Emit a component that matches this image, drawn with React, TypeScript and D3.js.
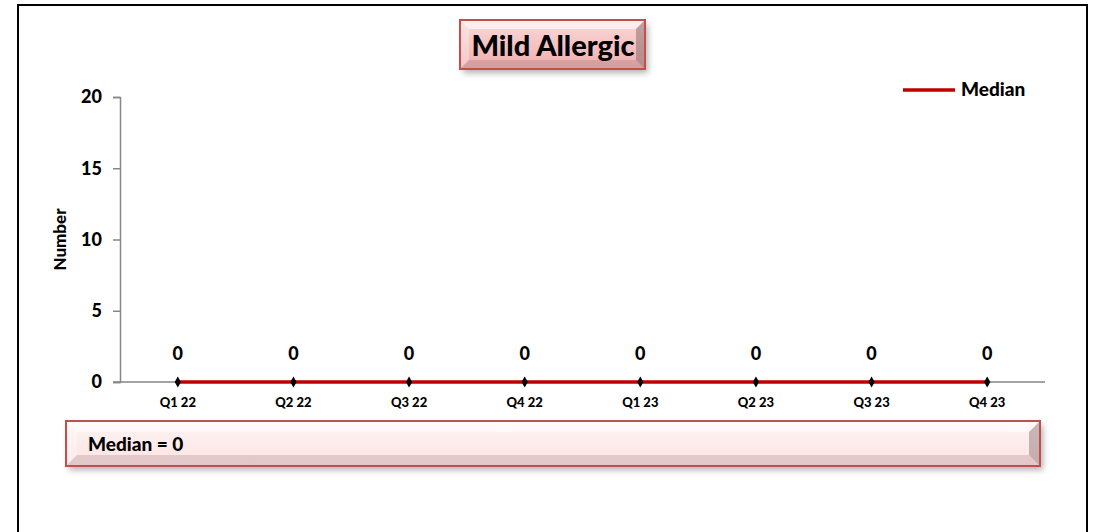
import { useEffect, useRef } from 'react';
import * as d3 from 'd3';

const categories = ['Q1 22', 'Q2 22', 'Q3 22', 'Q4 22', 'Q1 23', 'Q2 23', 'Q3 23', 'Q4 23'];
const medianValues = [0, 0, 0, 0, 0, 0, 0, 0];
const yTicks = [0, 5, 10, 15, 20];
const chartTitle = 'Mild Allergic';
const medianText = 'Median = 0';

const W = 1097;
const H = 532;
const FONT = 'Lato, Carlito, Calibri, "Open Sans", sans-serif';
const RED = '#C00000';

function bevelBox(
  g: d3.Selection<SVGGElement, unknown, null, undefined>,
  x: number, y: number, w: number, h: number,
  fillId: string, bevel: number, shadowId: string, shade: number
) {
  g.append('rect')
    .attr('x', x).attr('y', y).attr('width', w).attr('height', h)
    .attr('fill', '#fff').attr('filter', `url(#${shadowId})`);
  g.append('rect')
    .attr('x', x).attr('y', y).attr('width', w).attr('height', h)
    .attr('fill', `url(#${fillId})`);
  // top highlight
  g.append('path')
    .attr('d', `M${x},${y}L${x + w},${y}L${x + w - bevel},${y + bevel}L${x + bevel},${y + bevel}Z`)
    .attr('fill', '#fff').attr('opacity', 0.6);
  // left highlight
  g.append('path')
    .attr('d', `M${x},${y}L${x + bevel},${y + bevel}L${x + bevel},${y + h - bevel}L${x},${y + h}Z`)
    .attr('fill', '#fff').attr('opacity', 0.3);
  // right shade
  g.append('path')
    .attr('d', `M${x + w},${y}L${x + w},${y + h}L${x + w - bevel},${y + h - bevel}L${x + w - bevel},${y + bevel}Z`)
    .attr('fill', '#7a5a5a').attr('opacity', shade);
  // bottom shade
  g.append('path')
    .attr('d', `M${x},${y + h}L${x + w},${y + h}L${x + w - bevel},${y + h - bevel}L${x + bevel},${y + h - bevel}Z`)
    .attr('fill', '#8a6a6a').attr('opacity', shade * 0.55);
  g.append('rect')
    .attr('x', x).attr('y', y).attr('width', w).attr('height', h)
    .attr('fill', 'none').attr('stroke', '#C0504D').attr('stroke-width', 2);
}

export default function App() {
  const svgRef = useRef<SVGSVGElement>(null);

  useEffect(() => {
    if (!svgRef.current) return;
    const svg = d3.select(svgRef.current);
    svg.selectAll('*').remove();

    const defs = svg.append('defs');
    const tg = defs.append('linearGradient').attr('id', 'titleFill').attr('x1', 0).attr('y1', 0).attr('x2', 0).attr('y2', 1);
    tg.append('stop').attr('offset', '0%').attr('stop-color', '#FAD9D9');
    tg.append('stop').attr('offset', '100%').attr('stop-color', '#F0ADAD');
    const mg = defs.append('linearGradient').attr('id', 'medFill').attr('x1', 0).attr('y1', 0).attr('x2', 0).attr('y2', 1);
    mg.append('stop').attr('offset', '0%').attr('stop-color', '#FFF4F4');
    mg.append('stop').attr('offset', '100%').attr('stop-color', '#FCE2E2');
    const sh = defs.append('filter').attr('id', 'shadow').attr('x', '-10%').attr('y', '-20%').attr('width', '130%').attr('height', '160%');
    sh.append('feDropShadow').attr('dx', 3).attr('dy', 4).attr('stdDeviation', 3).attr('flood-color', '#000').attr('flood-opacity', 0.3);

    // outer frame
    svg.append('rect')
      .attr('x', 18).attr('y', 5).attr('width', 1069).attr('height', 540)
      .attr('fill', '#fff').attr('stroke', '#000').attr('stroke-width', 2);

    const x = d3.scaleBand<string>().domain(categories).range([120, 1045]);
    const y = d3.scaleLinear().domain([0, 20]).range([382, 97]);

    // y axis
    const yAxis = svg.append('g').attr('transform', 'translate(120,0)')
      .call(d3.axisLeft(y).tickValues(yTicks).tickSize(7).tickPadding(11));
    yAxis.select('.domain').attr('stroke', '#868686').attr('stroke-width', 1.5);
    yAxis.selectAll('.tick line').attr('stroke', '#868686').attr('stroke-width', 1.5);
    yAxis.selectAll('.tick text')
      .attr('font-family', FONT).attr('font-weight', 900).attr('font-size', 18).attr('fill', '#000');

    // x axis
    const xAxis = svg.append('g').attr('transform', 'translate(0,382)')
      .call(d3.axisBottom(x).tickSize(0).tickPadding(16));
    xAxis.select('.domain').attr('stroke', '#868686').attr('stroke-width', 1.5).attr('d', 'M113,0H1045');
    xAxis.selectAll('.tick text')
      .attr('font-family', FONT).attr('font-weight', 900).attr('font-size', 13).attr('fill', '#000');

    // axis title
    svg.append('text')
      .attr('transform', `translate(66,${(97 + 382) / 2}) rotate(-90)`)
      .attr('text-anchor', 'middle')
      .attr('font-family', FONT).attr('font-weight', 900).attr('font-size', 17)
      .text('Number');

    const cx = (c: string) => (x(c) ?? 0) + x.bandwidth() / 2;
    const line = d3.line<number>().x((_, i) => cx(categories[i])).y((d) => y(d));
    svg.append('path').datum(medianValues)
      .attr('d', line).attr('fill', 'none').attr('stroke', RED).attr('stroke-width', 3.5);

    svg.append('g').selectAll('path').data(medianValues).join('path')
      .attr('transform', (d, i) => `translate(${cx(categories[i])},${y(d)})`)
      .attr('d', d3.symbol(d3.symbolDiamond, 34)).attr('fill', '#000');

    svg.append('g').selectAll('text').data(medianValues).join('text')
      .attr('x', (_, i) => cx(categories[i])).attr('y', (d) => y(d) - 22)
      .attr('text-anchor', 'middle')
      .attr('font-family', FONT).attr('font-weight', 900).attr('font-size', 18)
      .text((d) => d);

    // legend
    svg.append('line').attr('x1', 903).attr('x2', 955).attr('y1', 90).attr('y2', 90)
      .attr('stroke', RED).attr('stroke-width', 3.5);
    svg.append('text').attr('x', 961).attr('y', 96)
      .attr('font-family', FONT).attr('font-weight', 900).attr('font-size', 19)
      .text('Median');

    // title box
    const tb = svg.append('g');
    bevelBox(tb, 460, 20, 185, 49, 'titleFill', 9, 'shadow', 0.45);
    tb.append('text').attr('x', 553).attr('y', 56).attr('text-anchor', 'middle')
      .attr('font-family', FONT).attr('font-weight', 900).attr('font-size', 29)
      .text(chartTitle);

    // median box
    const mb = svg.append('g');
    bevelBox(mb, 66, 421, 974, 45, 'medFill', 11, 'shadow', 0.4);
    mb.append('text').attr('x', 88).attr('y', 451)
      .attr('font-family', FONT).attr('font-weight', 900).attr('font-size', 19)
      .text(medianText);
  }, []);

  return (
    <svg ref={svgRef} width={W} height={H}
      style={{ position: 'absolute', left: 0, top: 0, display: 'block' }} />
  );
}
